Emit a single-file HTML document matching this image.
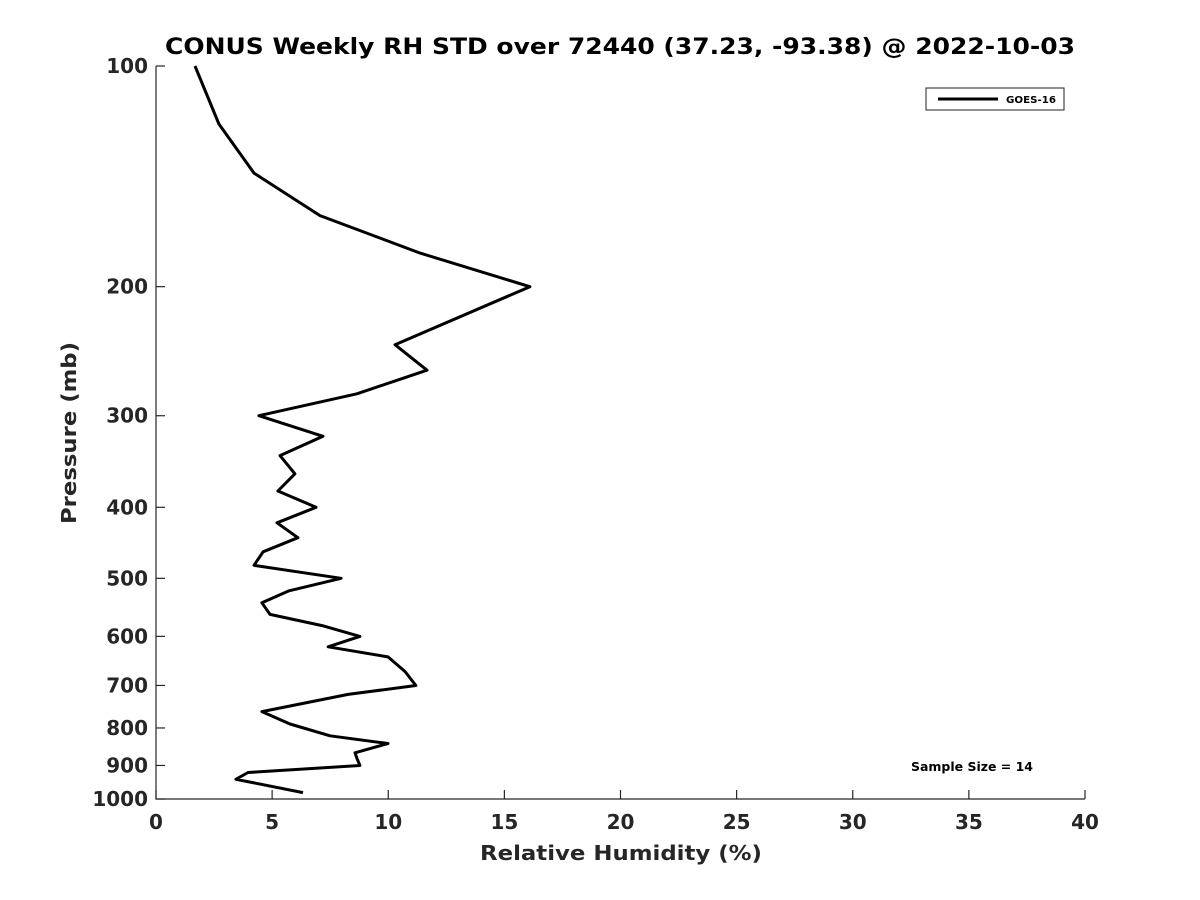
<!DOCTYPE html>
<html><head><meta charset="utf-8"><style>body{margin:0;background:#fff}svg{display:block;font-family:"DejaVu Sans","Liberation Sans",sans-serif}</style></head>
<body>
<svg id="chart" width="1200" height="900">
<rect width="1200" height="900" fill="#fff"/>
<text x="620" y="54" text-anchor="middle" font-size="22" font-weight="bold" textLength="910" lengthAdjust="spacingAndGlyphs">CONUS Weekly RH STD over 72440 (37.23, -93.38) @ 2022-10-03</text>
<g id="axes"></g>
<text x="621" y="860" text-anchor="middle" font-size="20" font-weight="bold" fill="#262626" textLength="282" lengthAdjust="spacingAndGlyphs">Relative Humidity (%)</text>
<text transform="translate(76,433) rotate(-90)" text-anchor="middle" font-size="20" font-weight="bold" fill="#262626" textLength="182" lengthAdjust="spacingAndGlyphs">Pressure (mb)</text>
<g>
<rect x="926" y="88" width="138" height="22" fill="#fff" stroke="#222" stroke-width="1"/>
<line x1="938" y1="99" x2="998" y2="99" stroke="#000" stroke-width="3"/>
<text x="1006" y="103" font-size="10" font-weight="bold" textLength="50" lengthAdjust="spacingAndGlyphs">GOES-16</text>
</g>
<text x="972" y="771" text-anchor="middle" font-size="12" font-weight="bold" textLength="122" lengthAdjust="spacingAndGlyphs">Sample Size = 14</text>
</svg>
<script>
const pressures=[100,120,140,160,180,200,240,260,280,300,320,340,360,380,400,420,440,460,480,500,520,540,560,580,600,620,640,670,700,720,760,790,820,840,865,880,900,920,940,980];
const rhStd=[1.68,2.71,4.22,7.06,11.37,16.10,10.29,11.67,8.65,4.43,7.19,5.34,5.98,5.25,6.89,5.21,6.11,4.61,4.22,7.97,5.73,4.56,4.91,7.15,8.78,7.41,9.99,10.72,11.19,8.27,4.56,5.77,7.49,9.99,8.57,8.65,8.78,3.96,3.44,6.33];
const xTicks=[0,5,10,15,20,25,30,35,40];
const yTicks=[100,200,300,400,500,600,700,800,900,1000];
const NS="http://www.w3.org/2000/svg";
const X0=156,X1=1085,Y0=66,Y1=799;
function xs(v){return X0+(v-0)/40*(X1-X0);}
function ys(p){return Y0+Math.log10(p/100)*(Y1-Y0);}
const g=document.getElementById('axes');
function mk(t,a){const e=document.createElementNS(NS,t);for(const k in a)e.setAttribute(k,a[k]);g.appendChild(e);return e;}
let e=mk('path',{d:`M${X0},${Y0}V${Y1}H${X1}`,fill:'none',stroke:'#262626','stroke-width':1.2});


xTicks.forEach(t=>{const x=xs(t);
 const l=mk('line',{x1:x,y1:Y1,x2:x,y2:Y1-9,stroke:'#262626','stroke-width':1.2});
 
 
 const tx=mk('text',{x:x,y:Y1+30,'text-anchor':'middle','font-size':20,'font-weight':'bold',fill:'#262626'});tx.textContent=t;
 
 });
yTicks.forEach(t=>{const y=ys(t);
 const l=mk('line',{x1:X0,y1:y,x2:X0+9,y2:y,stroke:'#262626','stroke-width':1.2});
 
 
 const tx=mk('text',{x:X0-8,y:y+7,'text-anchor':'end','font-size':20,'font-weight':'bold',fill:'#262626'});tx.textContent=t;
 
 });
const d=pressures.map((p,i)=>(i?'L':'M')+xs(rhStd[i]).toFixed(1)+','+ys(p).toFixed(1)).join('');
const ln=mk('path',{d:d,fill:'none',stroke:'#000','stroke-width':3,'stroke-linejoin':'round'});


</script>
</body></html>
